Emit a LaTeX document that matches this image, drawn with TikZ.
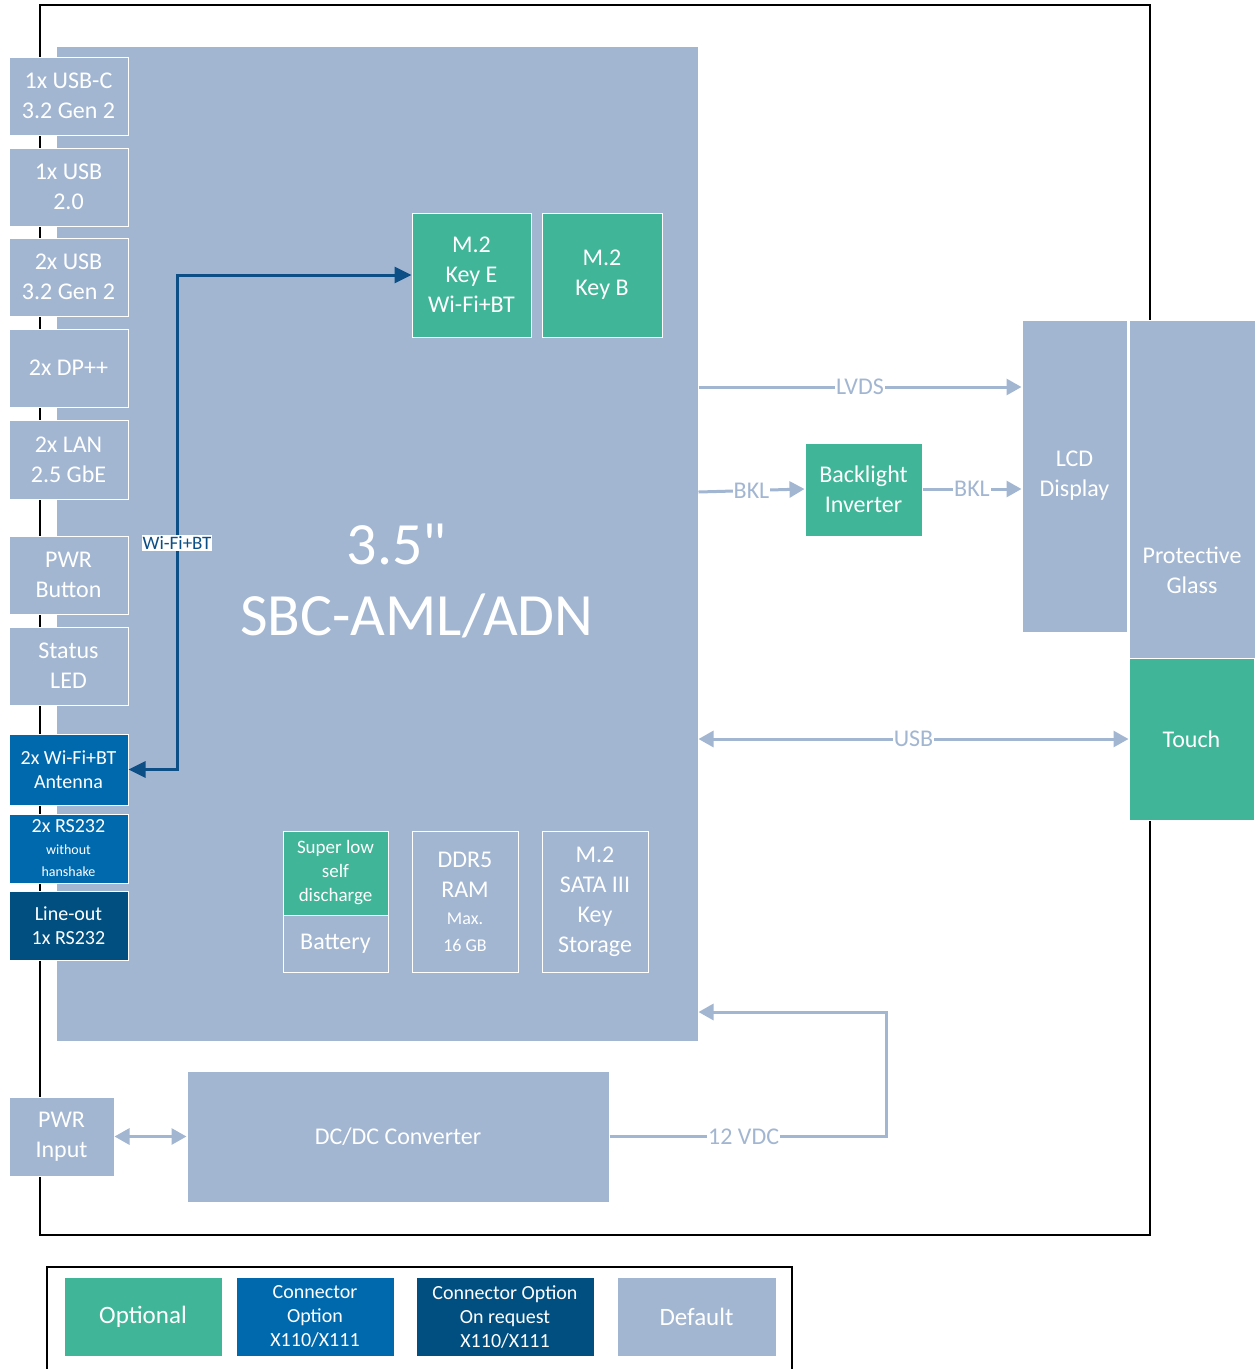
\documentclass[tikz,border=0pt]{standalone}
\usepackage{fontspec}
\setmainfont{Carlito}[Ligatures=TeXOff]
\usetikzlibrary{arrows.meta}
\definecolor{defc}{HTML}{A2B6D2}
\definecolor{optc}{HTML}{40B597}
\definecolor{conc}{HTML}{0069AD}
\definecolor{reqc}{HTML}{004F80}
\definecolor{wific}{HTML}{0B4F86}
\newcommand\mybox[7]{\node[#6, minimum width={#4-#2}, minimum height={#5-#3}] (#1) at ({(#2+#4)/2},{(#3+#5)/2}) {#7};}
\begin{document}
\begin{tikzpicture}[x=1pt,y=-1pt,
  blk/.style={draw=white, line width=1pt, fill=defc, text=white, align=center, inner sep=0pt, font=\fontsize{24}{30}\selectfont},
  ttl/.style={text=white, inner sep=0pt, font=\fontsize{60}{66}\selectfont},
  lbl/.style={fill=white, text=defc, inner sep=1pt, font=\fontsize{24}{28}\selectfont},
  wlbl/.style={fill=white, text=wific, inner sep=1pt, font=\fontsize{19}{22}\selectfont},
  larrow/.style={line width=3pt, draw=defc, -{Triangle[length=15pt,width=16pt]}},
  ldarrow/.style={line width=3pt, draw=defc, {Triangle[length=15pt,width=16pt]}-{Triangle[length=15pt,width=16pt]}},
  darrow/.style={line width=3pt, draw=wific, {Triangle[length=17pt,width=16pt]}-{Triangle[length=17pt,width=16pt]}}
]
\useasboundingbox (0,0) rectangle (1258,1369);
% outer frame
\draw[line width=1.2pt] (40,5) rectangle (1150,1235);
% main board
\mybox{sbc}{57}{47}{698}{1041}{blk,draw=none}{}
\node[ttl] (ttlA) at (397,544) {3.5"};
\node[ttl] (ttlB) at (417,616) {SBC-AML/ADN};
% left connectors
\mybox{usbc}{9}{57}{128}{135}{blk}{1x USB-C\\3.2 Gen 2}
\mybox{usbtwo}{9}{148}{128}{226}{blk}{1x USB\\2.0}
\mybox{usbthree}{9}{238}{128}{316}{blk}{2x USB\\3.2 Gen 2}
\mybox{dp}{9}{329}{128}{407}{blk}{2x DP++}
\mybox{lan}{9}{420}{128}{499}{blk}{2x LAN\\2.5 GbE}
\mybox{pwrbtn}{9}{536}{128}{614}{blk}{PWR\\Button}
\mybox{led}{9}{627}{128}{705}{blk}{Status\\LED}
\mybox{ant}{9}{734}{128}{805}{blk,fill=conc,font=\fontsize{20}{24}\selectfont}{2x Wi-Fi+BT\\Antenna}
\mybox{rs}{9}{814}{128}{883}{blk,fill=conc,font=\fontsize{20}{22}\selectfont}{2x RS232\\{\fontsize{14}{22}\selectfont without}\\{\fontsize{14}{22}\selectfont hanshake}}
\mybox{lineout}{9}{891}{128}{960}{blk,fill=reqc,font=\fontsize{20}{24}\selectfont}{Line-out\\1x RS232}
% M.2 slots
\mybox{keye}{412}{213}{531}{337}{blk,fill=optc}{M.2\\Key E\\Wi-Fi+BT}
\mybox{keyb}{542}{213}{662}{337}{blk,fill=optc}{M.2\\Key B}
% bottom components
\mybox{battop}{283}{831}{388}{915}{blk,fill=optc,font=\fontsize{19}{24}\selectfont}{Super low\\self\\discharge}
\mybox{battbot}{283}{915}{388}{972}{blk}{Battery}
\mybox{ddr}{412}{831}{518}{972}{blk}{DDR5\\RAM\\[-3pt]{\fontsize{18}{27}\selectfont Max.}\\[-3pt]{\fontsize{18}{27}\selectfont 16 GB}}
\mybox{sata}{542}{831}{648}{972}{blk}{M.2\\SATA III\\Key\\Storage}
% display side
\mybox{lcd}{1022}{320}{1127}{632}{blk}{LCD\\Display}
\mybox{glass}{1129}{320}{1255}{820}{blk}{Protective\\Glass}
\mybox{touch}{1129}{658}{1254}{820}{blk,fill=optc}{Touch}
\mybox{bkl}{805}{443}{922}{536}{blk,fill=optc}{Backlight\\Inverter}
% power
\mybox{dcdc}{187}{1071}{609}{1202}{blk}{DC/DC Converter}
\mybox{pwrin}{9}{1097}{114}{1176}{blk}{PWR\\Input}
% connectors
\draw[larrow] (sbc.east |- 0,387) -- node[lbl] (lvdsl) {LVDS} (lcd.west |- 0,387);
\draw[larrow] (sbc.east |- 0,492) -- node[lbl] (bkla) {BKL} (bkl.west |- 0,489);
\draw[larrow] (bkl.east |- 0,489) -- node[lbl] (bklb) {BKL} (lcd.west |- 0,489);
\draw[ldarrow] (sbc.east |- touch.west) -- node[lbl] (usbl) {USB} (touch.west);
\draw[ldarrow] (pwrin.east) -- (dcdc.west);
\coordinate (vbend) at (886,1136.5);
\coordinate (vtop) at (886,1012);
\draw[larrow] (dcdc.east) -- node[lbl, pos=0.485] (vdcl) {12 VDC} (vbend) -- (vtop) -- (sbc.east |- vtop);
\coordinate (wa) at (177,275);
\coordinate (wb) at (177,769.5);
\draw[darrow] (keye.west) -- (wa) -- node[wlbl, pos=0.542] (wlab) {Wi-Fi+BT} (wb) -- (ant.east);
% legend
\draw[line width=1.2pt] (47,1267) rectangle (792,1380);
\mybox{lgopt}{64}{1277}{222}{1356}{blk,fill=optc,font=\fontsize{25}{30}\selectfont}{Optional}
\mybox{lgcon}{236}{1277}{394}{1356}{blk,fill=conc,font=\fontsize{20}{24}\selectfont}{Connector\\Option\\X110/X111}
\mybox{lgreq}{416}{1277}{594}{1356}{blk,fill=reqc,font=\fontsize{20}{24}\selectfont}{Connector Option\\On request\\X110/X111}
\mybox{lgdef}{617}{1277}{776}{1356}{blk,font=\fontsize{25}{30}\selectfont}{Default}
\end{tikzpicture}
\end{document}
